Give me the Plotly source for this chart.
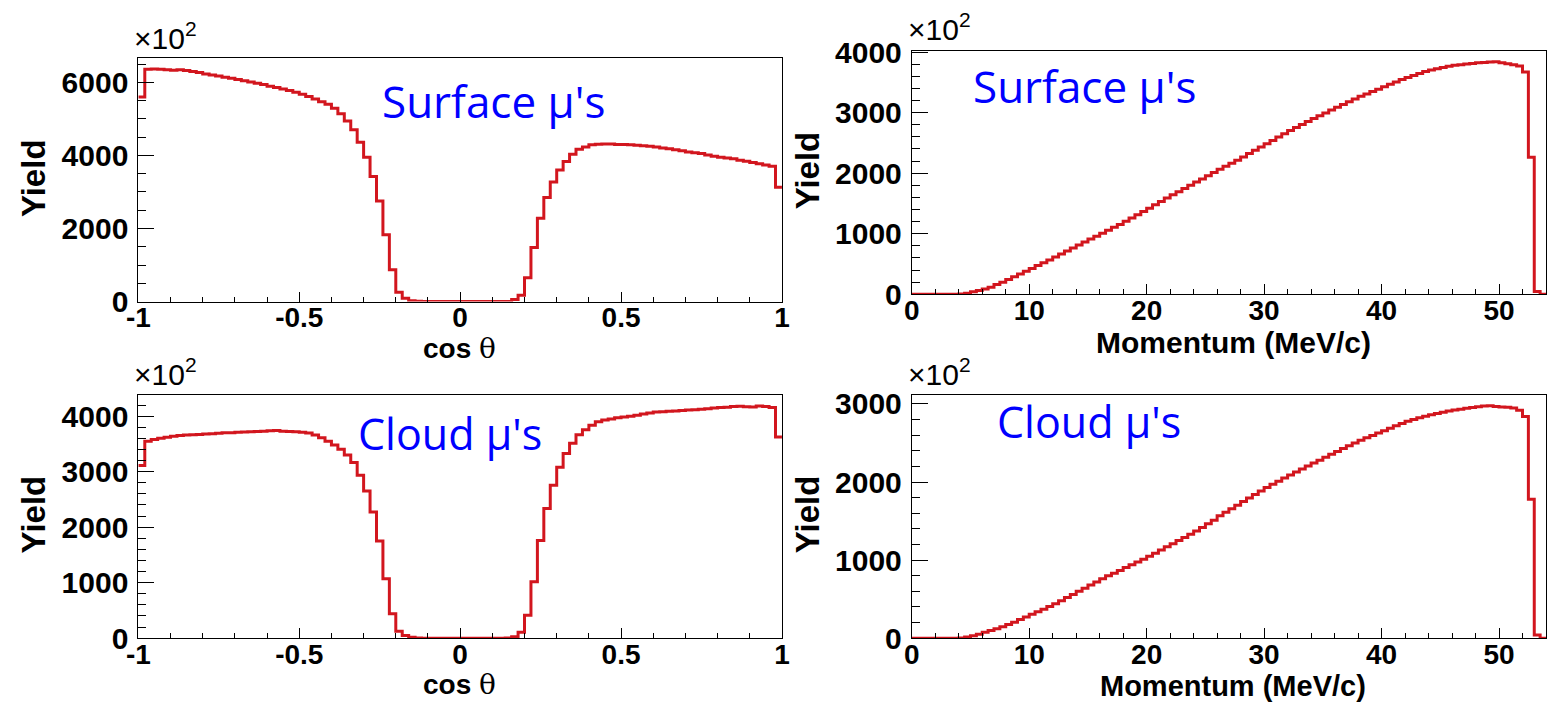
import numpy as np
import plotly.graph_objects as go

# ---------------- data (yield in units of 10^2) ----------------
cos_edges = np.linspace(-1.0, 1.0, 101)          # 100 bins of 0.02
mom_edges = np.linspace(0.0, 54.0, 109)          # 108 bins of 0.5 MeV/c

surface_cos = [5600, 6360, 6365, 6355, 6345, 6330, 6345, 6320, 6295, 6265,
               6225, 6200, 6175, 6140, 6110, 6075, 6045, 6005, 5975, 5940,
               5890, 5855, 5815, 5775, 5725, 5670, 5610, 5545, 5470, 5400,
               5290, 5140, 4940, 4700, 4360, 3950, 3420, 2750, 1830, 870,
               255, 90, 25, 8, 0, 0, 0, 0, 0, 0,
               0, 0, 0, 0, 0, 0, 0, 5, 60, 175,
               650, 1480, 2280, 2850, 3270, 3600, 3830, 4030, 4165, 4230,
               4290, 4305, 4315, 4310, 4300, 4295, 4290, 4280, 4265, 4250,
               4230, 4205, 4180, 4155, 4125, 4095, 4070, 4050, 4010, 3975,
               3950, 3930, 3905, 3870, 3840, 3805, 3775, 3740, 3700, 3130]

cloud_cos = [3110, 3550, 3580, 3600, 3620, 3640, 3650, 3660, 3665, 3670,
             3680, 3685, 3690, 3700, 3700, 3710, 3715, 3720, 3725, 3730,
             3735, 3740, 3730, 3725, 3720, 3710, 3695, 3660, 3610, 3550,
             3480, 3405, 3300, 3165, 2935, 2650, 2275, 1750, 1070, 440,
             125, 50, 15, 5, 0, 0, 0, 0, 0, 0,
             0, 0, 0, 0, 0, 0, 0, 5, 28, 108,
             413, 1015, 1760, 2335, 2755, 3080, 3325, 3510, 3665, 3755,
             3835, 3900, 3930, 3950, 3970, 3985, 4000, 4015, 4040, 4055,
             4075, 4080, 4090, 4095, 4100, 4110, 4115, 4125, 4135, 4145,
             4155, 4160, 4175, 4180, 4170, 4165, 4185, 4175, 4155, 3625]

surface_mom = [0, 0, 0, 0, 0, 0, 0, 0, 3, 18,
               40, 62, 88, 115, 160, 198, 244, 290, 336, 381,
               427, 473, 520, 566, 614, 664, 715, 765, 814, 862,
               911, 960, 1008, 1057, 1106, 1154, 1206, 1260, 1314, 1368,
               1422, 1477, 1533, 1588, 1642, 1694, 1747, 1800, 1852, 1905,
               1958, 2011, 2064, 2115, 2165, 2215, 2268, 2323, 2378, 2432,
               2486, 2541, 2597, 2652, 2705, 2755, 2805, 2855, 2903, 2949,
               2995, 3042, 3088, 3134, 3180, 3226, 3268, 3308, 3347, 3387,
               3427, 3467, 3506, 3545, 3580, 3613, 3646, 3680, 3704, 3724,
               3744, 3764, 3780, 3790, 3801, 3812, 3822, 3828, 3834, 3838,
               3825, 3806, 3790, 3770, 3670, 2264, 47, 0]

cloud_mom = [0, 0, 0, 0, 0, 0, 0, 0, 2, 15,
             32, 52, 75, 98, 122, 148, 175, 205, 238, 272,
             307, 340, 372, 405, 440, 480, 520, 560, 600, 640,
             680, 720, 762, 798, 833, 868, 905, 940, 975, 1010,
             1048, 1088, 1129, 1170, 1210, 1250, 1290, 1330, 1372, 1418,
             1464, 1510, 1567, 1613, 1659, 1704, 1750, 1796, 1841, 1886,
             1930, 1970, 2010, 2050, 2090, 2128, 2166, 2204, 2242, 2280,
             2318, 2355, 2392, 2428, 2464, 2500, 2535, 2566, 2597, 2627,
             2657, 2688, 2719, 2750, 2778, 2800, 2822, 2843, 2862, 2878,
             2893, 2908, 2921, 2933, 2944, 2955, 2965, 2974, 2978, 2968,
             2962, 2958, 2948, 2920, 2839, 1779, 40, 0]

cos_ticks = [-1, -0.5, 0, 0.5, 1]
cos_ticklabels = ["-1", "-0.5", "0", "0.5", "1"]
mom_ticks = [0, 10, 20, 30, 40, 50]

panel_labels = ["Surface μ's", "Surface μ's", "Cloud μ's", "Cloud μ's"]

# ---------------- figure ----------------
W, H = 1554, 717
RED = "#d2161e"
FONT = "Liberation Sans, Arial, Helvetica, sans-serif"

def px(x):
    return x / W

def py(y):
    return 1 - y / H

fig = go.Figure()

def step(edges, vals, xa, ya):
    x = list(edges)
    y = list(vals) + [vals[-1]]
    fig.add_trace(go.Scatter(x=x, y=y, mode="lines", line=dict(color=RED, width=3, shape="hv"),
                             xaxis=xa, yaxis=ya, showlegend=False, hoverinfo="skip"))

step(cos_edges, surface_cos, "x", "y")
step(mom_edges, surface_mom, "x2", "y2")
step(cos_edges, cloud_cos, "x3", "y3")
step(mom_edges, cloud_mom, "x4", "y4")

ytickfont = dict(family=FONT, size=30, color="black", weight="bold")
xtickfont = dict(family=FONT, size=28, color="black", weight="bold")

def xaxis(dom, rng, anchor, tickvals, ticktext, minor_dt):
    return dict(domain=dom, range=rng, anchor=anchor, showgrid=False, zeroline=False,
                showline=True, mirror=True, linecolor="black", linewidth=1,
                ticks="inside", ticklen=10, tickwidth=1, tickcolor="black",
                tickvals=tickvals, ticktext=ticktext, tickfont=xtickfont,
                ticklabelstandoff=-9,
                minor=dict(ticks="inside", ticklen=5, dtick=minor_dt, tickcolor="black", showgrid=False))

def yaxis(dom, rng, anchor, major, minor_dt, vmax):
    vals = list(range(0, vmax + 1, major))
    return dict(domain=dom, range=rng, anchor=anchor, showgrid=False, zeroline=False,
                showline=True, mirror=True, linecolor="black", linewidth=1,
                ticks="inside", ticklen=16, tickwidth=1, tickcolor="black",
                tickvals=vals, ticktext=[str(v) for v in vals], tickfont=ytickfont,
                ticklabelstandoff=3,
                minor=dict(ticks="inside", ticklen=8, dtick=minor_dt, tick0=0, tickcolor="black", showgrid=False))

xl = [px(128), px(780)]
xr = [px(911.5), 1.0]
yt_l = [py(300), py(45)]
yt_r = [py(292.3), py(37.5)]
yb = [py(652.3), py(397.7)]

fig.update_layout(
    width=W, height=H, margin=dict(l=0, r=0, t=0, b=0),
    paper_bgcolor="white", plot_bgcolor="white",
    xaxis=xaxis(xl, [-1, 1], "y", cos_ticks, cos_ticklabels, 0.1),
    yaxis=yaxis(yt_l, [0, 6665], "x", 2000, 500, 6000),
    xaxis2=xaxis(xr, [0, 54.0], "y2", mom_ticks, [str(v) for v in mom_ticks], 2),
    yaxis2=yaxis(yt_r, [0, 4020], "x2", 1000, 200, 4000),
    xaxis3=xaxis(xl, [-1, 1], "y3", cos_ticks, cos_ticklabels, 0.1),
    yaxis3=yaxis(yb, [0, 4382], "x3", 1000, 200, 4000),
    xaxis4=xaxis(xr, [0, 54.0], "y4", mom_ticks, [str(v) for v in mom_ticks], 2),
    yaxis4=yaxis(yb, [0, 3115], "x4", 1000, 200, 3000),
)

ann = []

def text(x, y, s, size, color="black", family=FONT, weight="normal", angle=0, xanchor="center"):
    ann.append(dict(x=px(x), y=py(y), xref="paper", yref="paper", text=s, showarrow=False,
                    xanchor=xanchor, yanchor="middle", textangle=angle,
                    font=dict(family=family, size=size, color=color, weight=weight)))

# Yield titles
for (x, y) in [(22, 171), (806, 163), (22, 523), (806, 523)]:
    text(x, y, "Yield", 33, weight="bold", angle=-90)

# x10^2 exponents
for (x, y) in [(122, 22), (906, 13), (122, 374), (906, 374)]:
    text(x, y, "×10<sup>2</sup>", 30, xanchor="left")

# x titles
theta = "<b>cos</b> <span style='font-family:DejaVu Serif;font-weight:normal'>θ</span>"
text(453, 349, theta, 28)
text(453, 701, theta, 28)
text(1237, 343, "Momentum (MeV/c)", 30, weight="bold")
text(1237, 702, "Momentum (MeV/c)", 29, weight="bold")

# panel labels
BLUE = "#0000ff"
LBL = "Open Sans, sans-serif"
text(488, 90, panel_labels[0], 44, color=BLUE, family=LBL)
text(1086, 74, panel_labels[1], 44, color=BLUE, family=LBL)
text(444, 438, panel_labels[2], 43, color=BLUE, family=LBL)
text(1091, 426, panel_labels[3], 43, color=BLUE, family=LBL)

fig.update_layout(annotations=ann)

fig.write_html("out.html")
